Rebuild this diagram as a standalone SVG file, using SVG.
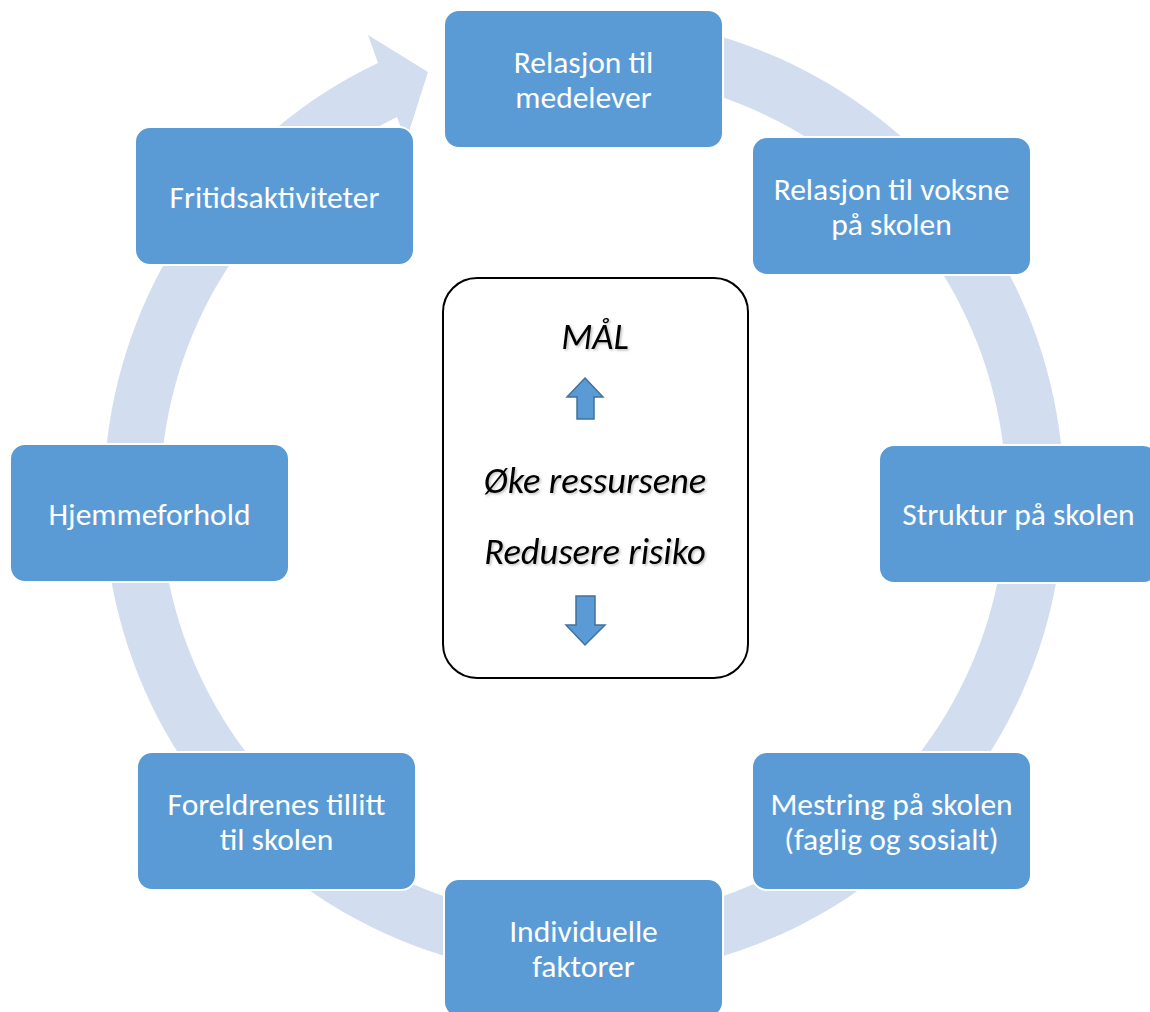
<svg xmlns="http://www.w3.org/2000/svg" width="1150" height="1012" viewBox="0 0 1150 1012">
<defs>
<style>
.node rect{fill:#5B9BD5;stroke:#FFFFFF;stroke-width:2}
.node text{font-family:Calibri,Lato,"Open Sans",sans-serif;font-size:31.5px;fill:#FFFFFF;text-anchor:middle}
.ctext{font-family:Calibri,Lato,"Open Sans",sans-serif;font-size:36.5px;font-style:italic;fill:#000000;text-anchor:middle}
.ring{fill:#D2DEEF;stroke:none}
.barrow{fill:#5B9BD5;stroke:#41719C;stroke-width:1.5}
</style>
<filter id="tshadow" x="-10%" y="-30%" width="120%" height="160%">
<feDropShadow dx="1.5" dy="1.5" stdDeviation="1" flood-color="#000000" flood-opacity="0.25"/>
</filter>
</defs>
<rect width="1150" height="1012" fill="#FFFFFF"/>
<g id="connectors">
<path class="ring" d="M 482.2 27.5 A 480 480 0 1 1 378 63 L 368 35 L 428 72 L 406 141 L 397 117 A 423 423 0 1 0 494.1 83.3 Z"/>
</g>
<g id="center">
<rect x="443" y="278" width="305" height="400" rx="34" ry="34" fill="#FFFFFF" stroke="#000000" stroke-width="2"/>
<g filter="url(#tshadow)">
<text class="ctext" x="595" y="349">MÅL</text>
<text class="ctext" x="595" y="493">Øke ressursene</text>
<text class="ctext" x="595" y="564">Redusere risiko</text>
</g>
<path class="barrow" d="M 585 378 L 603 397 L 594 397 L 594 419 L 577 419 L 577 397 L 567 397 Z"/>
<path class="barrow" d="M 576 596 L 595 596 L 595 625 L 605 625 L 585 645 L 566 625 L 576 625 Z"/>
</g>
<g id="n1" class="node"><rect x="444" y="10" width="279" height="138" rx="15"/><text x="583.5" y="72.5">Relasjon til</text><text x="583.5" y="107.5">medelever</text></g>
<g id="n2" class="node"><rect x="752" y="137" width="279" height="138" rx="15"/><text x="891.5" y="199.5">Relasjon til voksne</text><text x="891.5" y="234.5">på skolen</text></g>
<g id="n3" class="node"><rect x="879" y="445" width="279" height="138" rx="15"/><text x="1018.5" y="525">Struktur på skolen</text></g>
<g id="n4" class="node"><rect x="752" y="752" width="279" height="138" rx="15"/><text x="891.5" y="814.5">Mestring på skolen</text><text x="891.5" y="849.5">(faglig og sosialt)</text></g>
<g id="n5" class="node"><rect x="444" y="879" width="279" height="138" rx="15"/><text x="583.5" y="941.5">Individuelle</text><text x="583.5" y="976.5">faktorer</text></g>
<g id="n6" class="node"><rect x="137" y="752" width="279" height="138" rx="15"/><text x="276.5" y="814.5">Foreldrenes tillitt</text><text x="276.5" y="849.5">til skolen</text></g>
<g id="n7" class="node"><rect x="10" y="444" width="279" height="138" rx="15"/><text x="149.5" y="524.5">Hjemmeforhold</text></g>
<g id="n8" class="node"><rect x="135" y="127" width="279" height="138" rx="15"/><text x="274.5" y="207.5">Fritidsaktiviteter</text></g>
</svg>
